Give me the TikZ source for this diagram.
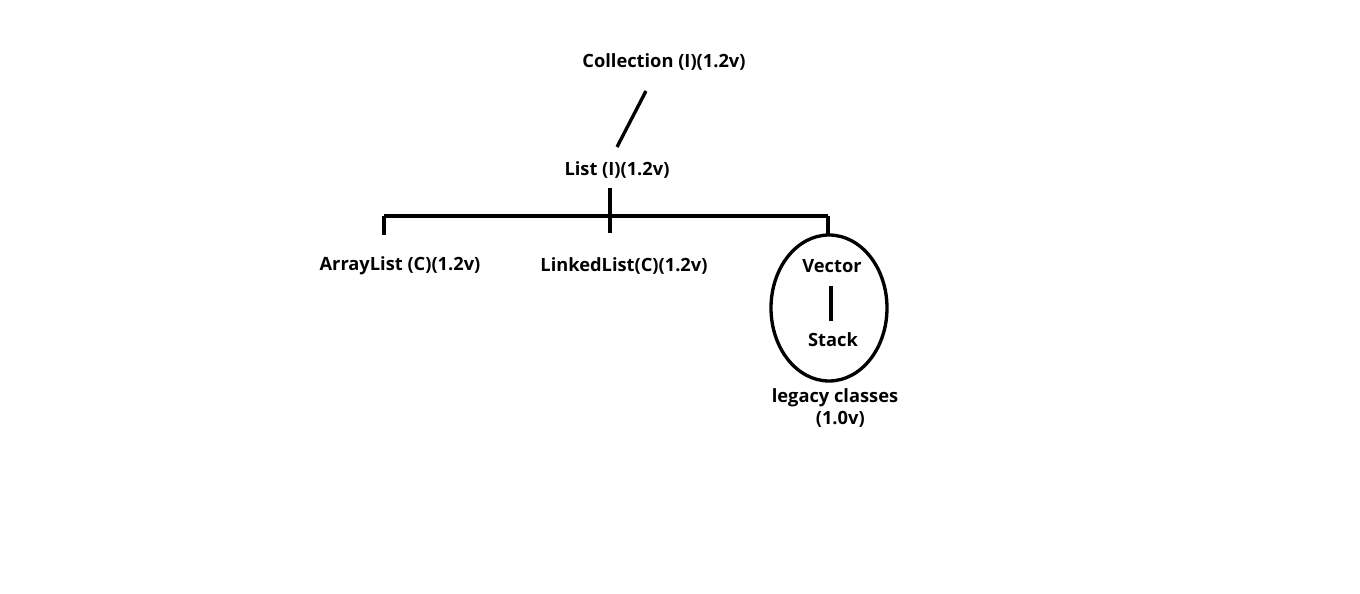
\documentclass[tikz,border=0pt]{standalone}
\usepackage{fontspec}
\setmainfont{Open Sans}

\begin{document}
\begin{tikzpicture}[x=0.02cm, y=-0.02cm,
    lbl/.style={font=\bfseries\fontsize{10.4}{12.5}\selectfont, inner sep=1pt},
    edge/.style={line width=1.9pt}]
  \useasboundingbox (0,0) rectangle (1360,594);

  \coordinate (CT) at (646, 91);
  \coordinate (LB) at (617, 147);
  \coordinate (LT) at (610, 188);
  \coordinate (BM) at (610, 216);
  \coordinate (BL) at (384, 216);
  \coordinate (BR) at (828, 216);
  \coordinate (AT) at (384, 235);
  \coordinate (KT) at (610, 233);
  \coordinate (VT) at (828, 235);
  \coordinate (VB) at (831, 286);
  \coordinate (ST) at (831, 321);

  \node[lbl] (coll)   at (664, 62)  {Collection (I)(1.2v)};
  \node[lbl] (list)   at (617, 170) {List (I)(1.2v)};
  \node[lbl] (alist)  at (400, 266) {ArrayList (C)(1.2v)};
  \node[lbl] (llist)  at (624, 266) {LinkedList(C)(1.2v)};
  \node[lbl] (vector) at (832, 266) {Vector};
  \node[lbl] (stack)  at (833, 340) {Stack};
  \node[lbl, align=center] (legacy) at (835, 408) {legacy classes\\\hspace*{6pt}(1.0v)};

  \draw[edge] (CT) -- (LB);
  \draw[edge] (LT) -- (KT);
  \draw[edge] (BL) -- (BR);
  \draw[edge] (BL) -- (AT);
  \draw[edge] (BR) -- (VT);
  \draw[edge] (VB) -- (ST);

  \draw[edge] (829, 308) ellipse [x radius=58, y radius=73];
\end{tikzpicture}
\end{document}
